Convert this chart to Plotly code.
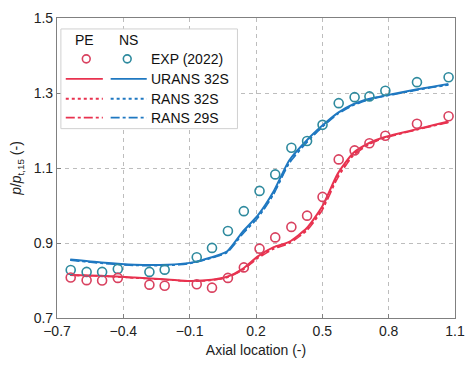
import plotly.graph_objects as go

# ---- data ----
exp_x = [-0.638, -0.566, -0.496, -0.425, -0.282, -0.213, -0.068, 0.001, 0.073, 0.145, 0.216,
         0.287, 0.360, 0.431, 0.501, 0.574, 0.646, 0.713, 0.785, 0.928, 1.071]
exp_ns = [0.828, 0.823, 0.823, 0.831, 0.823, 0.829, 0.862, 0.887, 0.932, 0.985, 1.039,
          1.083, 1.154, 1.172, 1.215, 1.273, 1.289, 1.291, 1.306, 1.329, 1.342]
exp_pe = [0.808, 0.801, 0.800, 0.807, 0.789, 0.786, 0.790, 0.781, 0.807, 0.835, 0.885,
          0.915, 0.943, 0.973, 1.023, 1.123, 1.147, 1.166, 1.186, 1.218, 1.238]

cfd_x = [-0.64, -0.5, -0.35, -0.2, -0.1, 0.0, 0.07, 0.14, 0.21, 0.28, 0.35, 0.43, 0.5,
         0.57, 0.64, 0.71, 0.78, 0.86, 0.93, 1.0, 1.07]
urans_ns = [0.856, 0.848, 0.842, 0.842, 0.847, 0.862, 0.878, 0.930, 0.975, 1.038, 1.120,
            1.174, 1.213, 1.247, 1.270, 1.284, 1.293, 1.302, 1.310, 1.317, 1.324]
rans32_ns = [0.855, 0.847, 0.841, 0.841, 0.846, 0.861, 0.876, 0.926, 0.970, 1.032, 1.115,
             1.170, 1.210, 1.245, 1.268, 1.283, 1.292, 1.301, 1.309, 1.316, 1.322]
rans29_ns = [0.854, 0.846, 0.840, 0.840, 0.845, 0.860, 0.875, 0.924, 0.968, 1.030, 1.112,
             1.168, 1.209, 1.244, 1.267, 1.282, 1.291, 1.300, 1.308, 1.315, 1.321]
urans_pe = [0.815, 0.813, 0.808, 0.803, 0.799, 0.802, 0.810, 0.831, 0.865, 0.889, 0.903,
            0.940, 0.998, 1.085, 1.140, 1.166, 1.182, 1.194, 1.204, 1.214, 1.224]
rans32_pe = [0.814, 0.812, 0.807, 0.802, 0.798, 0.801, 0.809, 0.829, 0.862, 0.886, 0.901,
             0.936, 0.992, 1.078, 1.136, 1.164, 1.181, 1.193, 1.203, 1.213, 1.222]
rans29_pe = [0.814, 0.812, 0.807, 0.802, 0.798, 0.801, 0.808, 0.828, 0.860, 0.884, 0.899,
             0.933, 0.988, 1.074, 1.133, 1.162, 1.180, 1.192, 1.202, 1.212, 1.221]

x_ticks = [-0.7, -0.4, -0.1, 0.2, 0.5, 0.8, 1.1]
x_tick_labels = ["\u22120.7", "\u22120.4", "\u22120.1", "0.2", "0.5", "0.8", "1.1"]
y_ticks = [0.7, 0.9, 1.1, 1.3, 1.5]
y_tick_labels = ["0.7", "0.9", "1.1", "1.3", "1.5"]
legend_rows = ["EXP (2022)", "URANS 32S", "RANS 32S", "RANS 29S"]

RED = "#e8324f"
RED_M = "#d9415f"
BLUE = "#1f78c1"
BLUE_M = "#2e8a9e"

fig = go.Figure()

def add_line(x, y, color, dash, width):
    fig.add_trace(go.Scatter(x=x, y=y, mode="lines", showlegend=False,
                             line=dict(color=color, dash=dash, width=width, shape="spline", smoothing=0.6)))

add_line(cfd_x, rans29_pe, RED, "dashdot", 1.5)
add_line(cfd_x, rans32_pe, RED, "dot", 1.5)
add_line(cfd_x, rans29_ns, BLUE, "dashdot", 1.5)
add_line(cfd_x, rans32_ns, BLUE, "dot", 1.5)
add_line(cfd_x, urans_pe, RED, "solid", 2)
add_line(cfd_x, urans_ns, BLUE, "solid", 2)

fig.add_trace(go.Scatter(x=exp_x, y=exp_ns, mode="markers", showlegend=False,
                         marker=dict(symbol="circle-open", size=9, color=BLUE_M, line=dict(width=1.6))))
fig.add_trace(go.Scatter(x=exp_x, y=exp_pe, mode="markers", showlegend=False,
                         marker=dict(symbol="circle-open", size=9, color=RED_M, line=dict(width=1.6))))

# ---- custom legend (paper coords) ----
L, R, T, B = 57, 465, 17, 318
def px(v):
    return (v - L) / (R - L)
def py(v):
    return (B - v) / (B - T)

shapes = []
annotations = []
shapes.append(dict(type="rect", xref="paper", yref="paper", x0=px(61), x1=px(242), y0=py(128), y1=py(28),
                   line=dict(color="#d0d0d0", width=1), fillcolor="white", opacity=1, layer="above"))
annotations.append(dict(text="PE", x=px(85), y=py(39), xref="paper", yref="paper", showarrow=False,
                        xanchor="center", yanchor="middle", font=dict(size=14, color="#111")))
annotations.append(dict(text="NS", x=px(130), y=py(39), xref="paper", yref="paper", showarrow=False,
                        xanchor="center", yanchor="middle", font=dict(size=14, color="#111")))
row_y = [58, 78, 98, 117]
dashes = [None, "solid", "dot", "dashdot"]
for name, yy, d in zip(legend_rows, row_y, dashes):
    annotations.append(dict(text=name, x=px(151), y=py(yy), xref="paper", yref="paper", showarrow=False,
                            xanchor="left", yanchor="middle", font=dict(size=14, color="#111")))
    if d is None:
        for cx, col in [(87, RED_M), (129, BLUE_M)]:
            shapes.append(dict(type="circle", xref="paper", yref="paper", x0=px(cx - 4), x1=px(cx + 4),
                               y0=py(yy + 4), y1=py(yy - 4), line=dict(color=col, width=1.6), layer="above"))
    else:
        for x0, x1, col in [(66, 104, RED), (112, 149, BLUE)]:
            shapes.append(dict(type="line", xref="paper", yref="paper", x0=px(x0), x1=px(x1),
                               y0=py(yy), y1=py(yy), line=dict(color=col, width=1.8, dash=d), layer="above"))

grid = dict(showgrid=True, gridcolor="#bdbdbd", griddash="4px,4px", gridwidth=1,
            showline=True, linecolor="#808080", linewidth=1.2, mirror=True,
            ticks="inside", ticklen=4, tickcolor="#808080", zeroline=False)

fig.update_layout(
    width=475, height=372,
    margin=dict(l=L, r=475 - R, t=T, b=372 - B),
    paper_bgcolor="white", plot_bgcolor="white",
    font=dict(family="Liberation Sans, Arial", size=14, color="#222"),
    shapes=shapes, annotations=annotations,
    xaxis=dict(range=[-0.7, 1.1], tickvals=x_ticks, ticktext=x_tick_labels,
               title=dict(text="Axial location (-)", standoff=7, font=dict(size=14)), **grid),
    yaxis=dict(range=[0.7, 1.5], tickvals=y_ticks, ticktext=y_tick_labels,
               title=dict(text="<i>p</i>/<i>p</i><sub>t,15</sub> (-)", standoff=8, font=dict(size=14)), **grid),
)

fig.write_html("out.html")
